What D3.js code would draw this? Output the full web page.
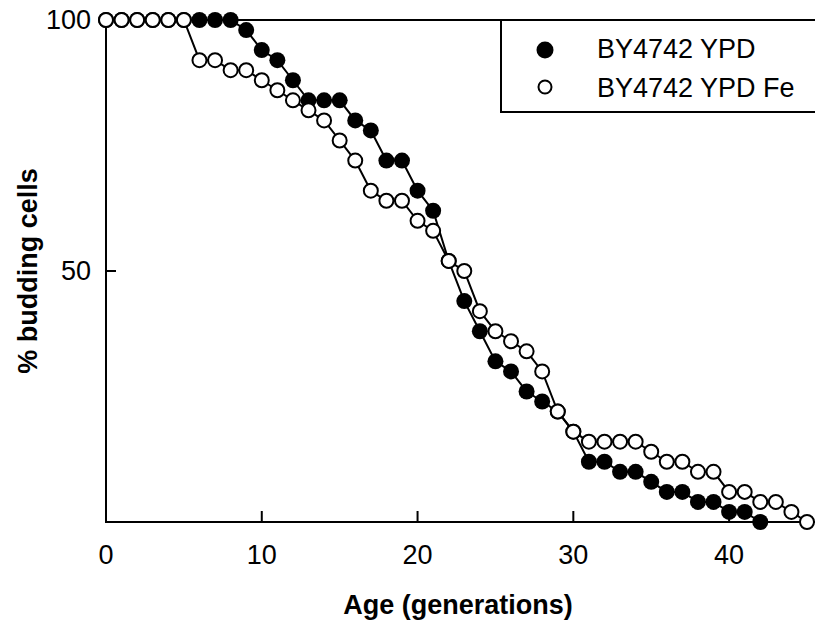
<!DOCTYPE html>
<html>
<head>
<meta charset="utf-8">
<script src="https://cdn.jsdelivr.net/npm/d3@7"></script>
<style>
  html, body { margin: 0; padding: 0; background: #fff; }
  svg { display: block; }
  text { font-family: "Liberation Sans", Arial, sans-serif; fill: #000; }
</style>
</head>
<body>
<svg id="chart" width="815" height="624"></svg>
<script>
// Data
const agesYPD = d3.range(0, 43);
const valuesYPD = [100,100,100,100,100,100,100,100,100,98,94,92,88,84,84,84,80,78,72,72,66,62,52,44,38,32,30,26,24,22,18,12,12,10,10,8,6,6,4,4,2,2,0];
const agesFe = d3.range(0, 46);
const valuesFe = [100,100,100,100,100,100,92,92,90,90,88,86,84,82,80,76,72,66,64,64,60,58,52,50,42,38,36,34,30,22,18,16,16,16,16,14,12,12,10,10,6,6,4,4,2,0];
const xTicks = [0, 10, 20, 30, 40];
const yTicks = [50, 100];
const seriesNames = ["BY4742 YPD", "BY4742 YPD Fe"];

const svg = d3.select("#chart");
const pLeft = 106, pRight = 807, pTop = 20, pBottom = 522;

const x = d3.scaleLinear().domain([0, 45]).range([pLeft, pRight]);
const y = d3.scaleLinear().domain([0, 100]).range([pBottom, pTop]);

// Frame
svg.append("rect")
  .attr("x", pLeft).attr("y", pTop)
  .attr("width", 830 - pLeft).attr("height", pBottom - pTop)
  .attr("fill", "none").attr("stroke", "#000").attr("stroke-width", 2);

// X axis ticks (inward)
const xAxis = svg.append("g");
xAxis.selectAll("line").data(xTicks).enter().append("line")
  .attr("x1", d => x(d)).attr("x2", d => x(d))
  .attr("y1", pBottom).attr("y2", pBottom - 11)
  .attr("stroke", "#000").attr("stroke-width", 2);
xAxis.selectAll("text").data(xTicks).enter().append("text")
  .attr("x", d => x(d)).attr("y", pBottom + 42)
  .attr("text-anchor", "middle").attr("font-size", 27)
  .text(d => d);

// Y axis ticks
const yAxis = svg.append("g");
yAxis.selectAll("line").data(yTicks).enter().append("line")
  .attr("x1", pLeft).attr("x2", pLeft + 10)
  .attr("y1", d => y(d)).attr("y2", d => y(d))
  .attr("stroke", "#000").attr("stroke-width", 2);
yAxis.selectAll("text").data(yTicks).enter().append("text")
  .attr("x", pLeft - 15).attr("y", d => y(d) + 9)
  .attr("text-anchor", "end").attr("font-size", 27)
  .text(d => d);

// Axis titles
svg.append("text")
  .attr("x", 458).attr("y", 614)
  .attr("text-anchor", "middle").attr("font-size", 27).attr("font-weight", "bold")
  .text("Age (generations)");
svg.append("text")
  .attr("transform", `translate(37, ${y(50)}) rotate(-90)`)
  .attr("text-anchor", "middle").attr("font-size", 27).attr("font-weight", "bold")
  .text("% budding cells");

const line = d3.line().x(d => x(d[0])).y(d => y(d[1]));
const dYPD = agesYPD.map((a, i) => [a, valuesYPD[i]]);
const dFe = agesFe.map((a, i) => [a, valuesFe[i]]);

// Filled series
svg.append("path").datum(dYPD).attr("d", line)
  .attr("fill", "none").attr("stroke", "#000").attr("stroke-width", 2);
svg.append("g").selectAll("circle").data(dYPD).enter().append("circle")
  .attr("cx", d => x(d[0])).attr("cy", d => y(d[1])).attr("r", 8)
  .attr("fill", "#000");

// Open series
svg.append("path").datum(dFe).attr("d", line)
  .attr("fill", "none").attr("stroke", "#000").attr("stroke-width", 2);
svg.append("g").selectAll("circle").data(dFe).enter().append("circle")
  .attr("cx", d => x(d[0])).attr("cy", d => y(d[1])).attr("r", 7)
  .attr("fill", "#fff").attr("stroke", "#000").attr("stroke-width", 2);

// Legend
const lg = svg.append("g");
lg.append("rect")
  .attr("x", 501).attr("y", pTop).attr("width", 340).attr("height", 92)
  .attr("fill", "#fff").attr("stroke", "#000").attr("stroke-width", 2);
lg.append("circle").attr("cx", 545).attr("cy", 50).attr("r", 8.5).attr("fill", "#000");
lg.append("circle").attr("cx", 545).attr("cy", 87).attr("r", 6.5)
  .attr("fill", "#fff").attr("stroke", "#000").attr("stroke-width", 2);
lg.selectAll("text.lab").data(seriesNames).enter().append("text")
  .attr("class", "lab")
  .attr("x", 597).attr("y", (d, i) => 58 + i * 39)
  .attr("font-size", 27)
  .text(d => d);
</script>
</body>
</html>
